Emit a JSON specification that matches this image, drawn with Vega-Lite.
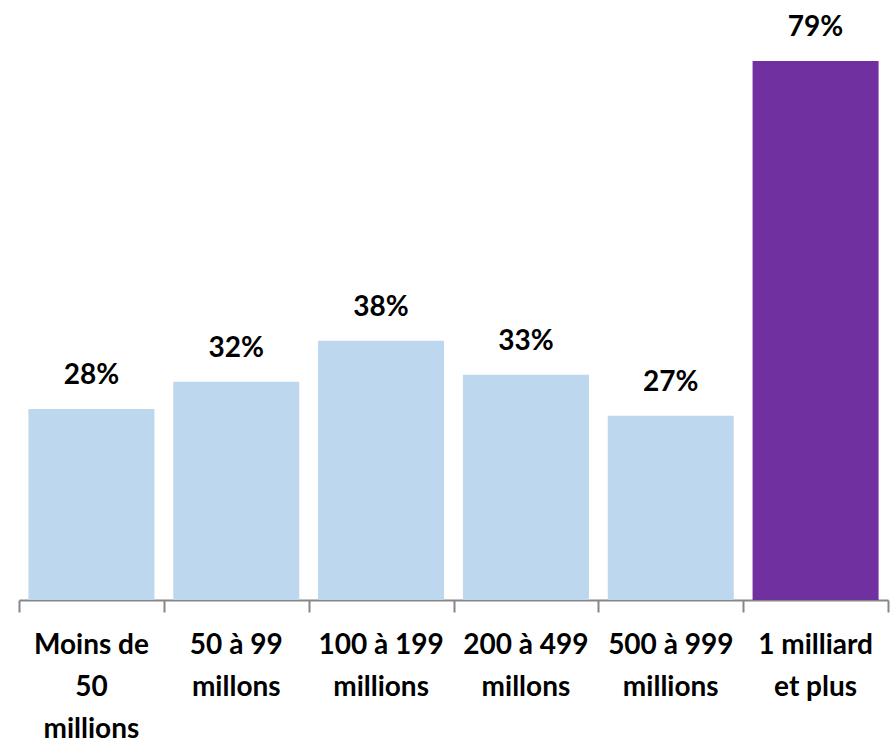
{
  "$schema": "https://vega.github.io/schema/vega-lite/v6.json",
  "width": 869,
  "height": 539,
  "autosize": {"type": "none"},
  "padding": {"left": 19, "top": 61, "right": 7, "bottom": 143},
  "background": "white",
  "config": {"view": {"stroke": null}},
  "data": {
    "values": [
      {"cat": "Moins de 50 millions", "value": 0.28},
      {"cat": "50 à 99 millons", "value": 0.32},
      {"cat": "100 à 199 millions", "value": 0.38},
      {"cat": "200 à 499 millons", "value": 0.33},
      {"cat": "500 à 999 millions", "value": 0.27},
      {"cat": "1 milliard et plus", "value": 0.79}
    ]
  },
  "resolve": {"axis": {"x": "independent"}},
  "layer": [
    {
      "mark": {"type": "bar", "width": {"band": 0.87}},
      "encoding": {
        "x": {
          "field": "cat",
          "type": "nominal",
          "sort": null,
          "scale": {"paddingInner": 0, "paddingOuter": 0},
          "axis": {
            "orient": "bottom",
            "title": null,
            "labels": false,
            "tickBand": "extent",
            "domainColor": "#868686",
            "domainWidth": 2,
            "tickColor": "#868686",
            "tickWidth": 2,
            "tickSize": 12
          }
        },
        "y": {
          "field": "value",
          "type": "quantitative",
          "scale": {"domain": [0, 0.79], "nice": false, "zero": true},
          "axis": null
        },
        "color": {
          "condition": {"test": "datum.cat == '1 milliard et plus'", "value": "#7030A0"},
          "value": "#BDD7EE"
        }
      }
    },
    {
      "mark": {
        "type": "text",
        "baseline": "alphabetic",
        "dy": -25,
        "font": "Lato",
        "fontWeight": "bold",
        "fontSize": 28,
        "color": "#000000"
      },
      "encoding": {
        "x": {
          "field": "cat",
          "type": "nominal",
          "sort": null,
          "axis": {
            "orient": "bottom",
            "title": null,
            "labelAngle": 0,
            "domain": false,
            "ticks": false,
            "labelFont": "Lato",
            "labelFontWeight": "bold",
            "labelFontSize": 28,
            "labelColor": "#000000",
            "labelLineHeight": 42,
            "labelPadding": 31,
            "labelBaseline": "top",
            "labelLimit": 0,
            "labelExpr": "datum.label == 'Moins de 50 millions' ? ['Moins de', '50', 'millions'] : datum.label == '50 à 99 millons' ? ['50 à 99', 'millons'] : datum.label == '100 à 199 millions' ? ['100 à 199', 'millions'] : datum.label == '200 à 499 millons' ? ['200 à 499', 'millons'] : datum.label == '500 à 999 millions' ? ['500 à 999', 'millions'] : ['1 milliard', 'et plus']"
          }
        },
        "y": {
          "field": "value",
          "type": "quantitative",
          "scale": {"domain": [0, 0.79], "nice": false, "zero": true},
          "axis": null
        },
        "text": {"field": "value", "type": "quantitative", "format": ".0%"}
      }
    }
  ]
}
